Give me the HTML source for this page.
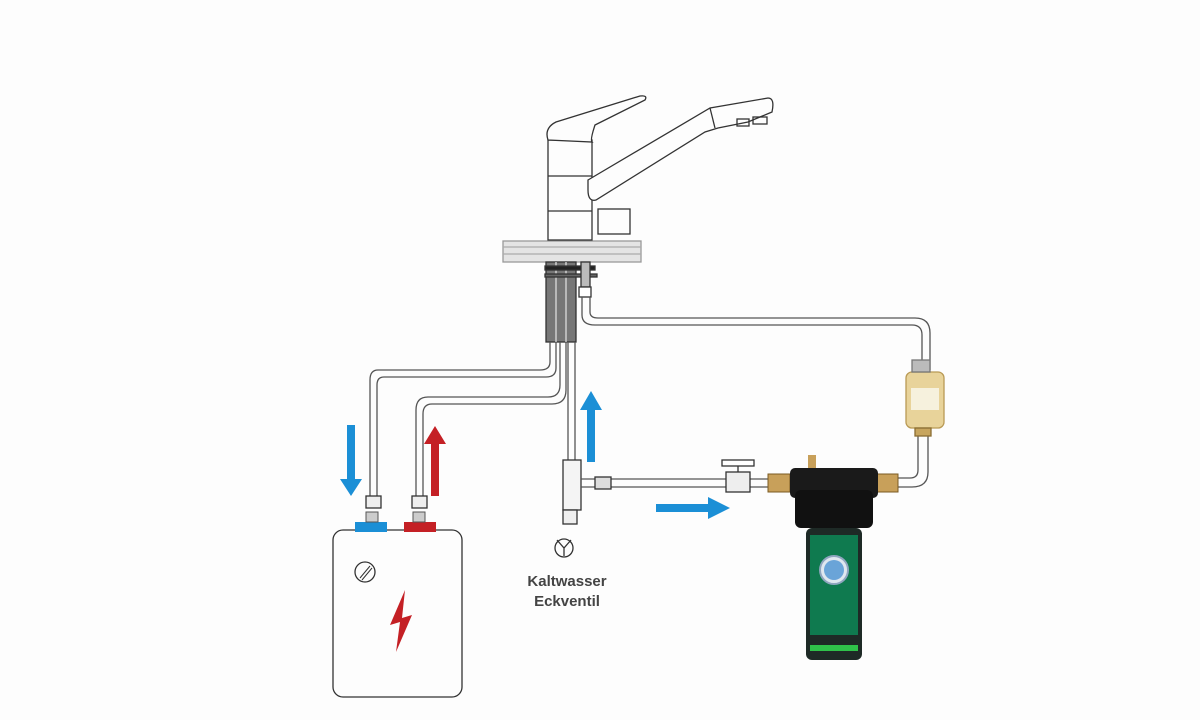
<!DOCTYPE html>
<html><head><meta charset="utf-8"><style>
html,body{margin:0;padding:0;background:#fdfdfd;}
svg{display:block}
text{font-family:"Liberation Sans",sans-serif;font-weight:bold;fill:#444;font-size:15px}
</style></head><body>
<svg width="1200" height="720" viewBox="0 0 1200 720">
<rect width="1200" height="720" fill="#fdfdfd"/>
<g fill="none" stroke="#333" stroke-width="1.3">
<!-- countertop -->
<rect x="503" y="241" width="138" height="21" fill="#e4e4e4" stroke="#999"/>
<line x1="503" y1="247" x2="641" y2="247" stroke="#aaa"/>
<line x1="503" y1="254" x2="641" y2="254" stroke="#aaa"/>
<!-- faucet body -->
<rect x="548" y="140" width="44" height="100" fill="#fdfdfd"/>
<line x1="548" y1="176" x2="592" y2="176"/>
<line x1="548" y1="211" x2="592" y2="211"/>
<path d="M548,140 Q544,128 556,122 L640,96 Q648,95 645,100 L595,125 Q590,140 592,142 Z" fill="#fdfdfd"/>
<path d="M588,180 L710,108 L768,98 Q775,98 772,112 L748,122 L718,128 L705,132 L596,200 Q588,202 588,190 Z" fill="#fdfdfd"/>
<line x1="710" y1="108" x2="715" y2="128"/>
<rect x="737" y="119" width="12" height="7"/><rect x="753" y="117" width="14" height="7"/>
<rect x="598" y="209" width="32" height="25" fill="#fdfdfd"/>
<!-- hose braids -->
<rect x="546" y="262" width="30" height="80" fill="#777" stroke="#333"/>
<line x1="556" y1="262" x2="556" y2="342" stroke="#ddd"/><line x1="566" y1="262" x2="566" y2="342" stroke="#ddd"/>
<rect x="545" y="266" width="50" height="4" fill="#222"/>
<rect x="545" y="274" width="52" height="3" fill="#666"/>
<rect x="581" y="262" width="9" height="25" fill="#bbb"/>
<rect x="579" y="287" width="12" height="10" fill="#fff"/>
<!-- right pipe to cartridge -->
<path d="M582,297 L582,315 Q582,325 595,325 L912,325 Q922,325 922,335 L922,370" stroke="#555"/>
<path d="M590,297 L590,312 Q590,318 598,318 L915,318 Q930,318 930,333 L930,370" stroke="#555"/>
<path d="M918,430 L918,470 Q918,478 910,478 L880,478" stroke="#555"/>
<path d="M928,430 L928,472 Q928,487 912,487 L880,487" stroke="#555"/>
<!-- cartridge -->
<rect x="906" y="372" width="38" height="56" rx="6" fill="#e8d39a" stroke="#b99a55"/>
<rect x="911" y="388" width="28" height="22" fill="#f6f1dd" stroke="none"/>
<rect x="912" y="360" width="18" height="12" fill="#bbb" stroke="#777"/>
<rect x="915" y="428" width="16" height="8" fill="#c7a55e" stroke="#8a6d32"/>
<!-- left pipes -->
<path d="M550,342 L550,362 Q550,370 540,370 L378,370 Q370,370 370,380 L370,505" stroke="#555"/>
<path d="M556,342 L556,368 Q556,377 546,377 L384,377 Q377,377 377,385 L377,505" stroke="#555"/>
<path d="M560,342 L560,385 Q560,397 548,397 L428,397 Q416,397 416,410 L416,505" stroke="#555"/>
<path d="M566,342 L566,390 Q566,404 552,404 L432,404 Q423,404 423,414 L423,505" stroke="#555"/>
<rect x="366" y="496" width="15" height="12" fill="#eee"/>
<rect x="412" y="496" width="15" height="12" fill="#eee"/>
<!-- cold pipe -->
<line x1="568" y1="342" x2="568" y2="460" stroke="#555"/>
<line x1="575" y1="342" x2="575" y2="460" stroke="#555"/>
<rect x="563" y="460" width="18" height="50" fill="#f4f4f4"/>
<rect x="563" y="510" width="14" height="14" fill="#eee"/>
<circle cx="564" cy="548" r="9" fill="#fdfdfd"/>
<path d="M557,540 L564,548 L571,540 M564,548 L564,556"/>
<!-- horizontal pipe -->
<line x1="581" y1="479" x2="775" y2="479" stroke="#555"/>
<line x1="581" y1="487" x2="775" y2="487" stroke="#555"/>
<rect x="595" y="477" width="16" height="12" fill="#ddd"/>
<rect x="726" y="472" width="24" height="20" fill="#eee"/>
<rect x="722" y="460" width="32" height="6" fill="#fff"/>
<line x1="738" y1="466" x2="738" y2="472"/>
</g>
<!-- filter -->
<rect x="768" y="474" width="22" height="18" fill="#c8a05a" stroke="#7a5a22"/>
<rect x="876" y="474" width="22" height="18" fill="#c8a05a" stroke="#7a5a22"/>
<rect x="808" y="455" width="8" height="15" fill="#c8a05a"/>
<rect x="790" y="468" width="88" height="30" rx="5" fill="#1a1a1a"/>
<rect x="795" y="490" width="78" height="38" rx="6" fill="#111"/>
<rect x="806" y="528" width="56" height="132" rx="6" fill="#1e2a26"/>
<rect x="810" y="535" width="48" height="100" fill="#0f7a4f"/>
<rect x="810" y="645" width="48" height="6" fill="#2fc24a"/>
<circle cx="834" cy="570" r="14" fill="#dfe7ef" stroke="#8fa5bf" stroke-width="2"/>
<circle cx="834" cy="570" r="10" fill="#6aa4d8"/>
<!-- heater -->
<rect x="333" y="530" width="129" height="167" rx="10" fill="#fdfdfd" stroke="#333" stroke-width="1.3"/>
<rect x="355" y="522" width="32" height="10" fill="#1b8fd6"/>
<rect x="404" y="522" width="32" height="10" fill="#c42025"/>
<rect x="366" y="512" width="12" height="10" fill="#ccc" stroke="#555"/>
<rect x="413" y="512" width="12" height="10" fill="#ccc" stroke="#555"/>
<circle cx="365" cy="572" r="10" fill="none" stroke="#333" stroke-width="1.3"/>
<path d="M360,578 L370,566 M362,580 L372,568" stroke="#333"/>
<path d="M405,590 L390,625 L400,622 L396,652 L412,615 L402,618 Z" fill="#c42025"/>
<!-- arrows -->
<path d="M347,425 h8 v54 h7 l-11,17 l-11,-17 h7 z" fill="#1b8fd6"/>
<path d="M431,496 h8 v-52 h7 l-11,-18 l-11,18 h7 z" fill="#c42025"/>
<path d="M587,462 h8 v-52 h7 l-11,-19 l-11,19 h7 z" fill="#1b8fd6"/>
<path d="M656,504 h52 v-7 l22,11 l-22,11 v-7 h-52 z" fill="#1b8fd6"/>
<text x="567" y="586" text-anchor="middle">Kaltwasser</text>
<text x="567" y="606" text-anchor="middle">Eckventil</text>
</svg>
</body></html>
